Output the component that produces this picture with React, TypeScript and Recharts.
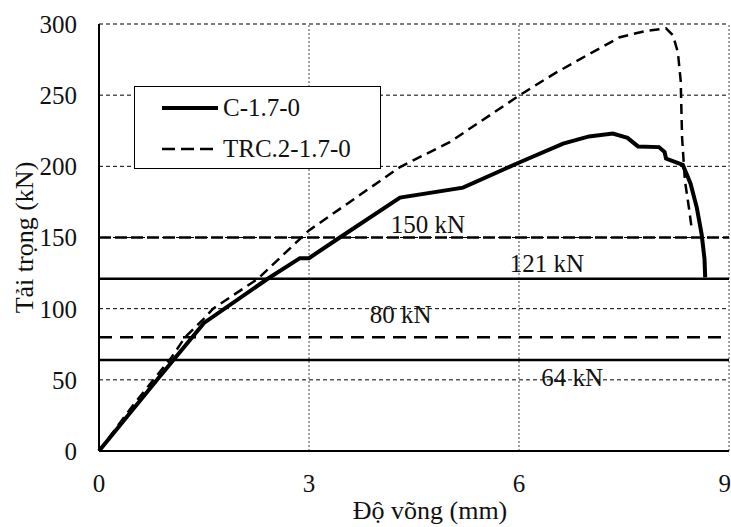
import {
  LineChart,
  Line,
  XAxis,
  YAxis,
  CartesianGrid,
  ReferenceLine,
  ReferenceDot,
  Legend,
} from "recharts";

// Load-deflection curves (x: mm, y: kN)
const C_X = [0, 0.83, 1.5, 2.41, 2.87, 3.0, 3.44, 4.3, 5.2, 5.97, 6.63, 7.0, 7.34, 7.55, 7.7, 8.0, 8.08, 8.1, 8.34, 8.45, 8.54, 8.61, 8.65, 8.66];
const C_Y = [0, 50, 90, 121, 135.5, 135.5, 150, 178, 185, 202, 216, 221, 223, 220, 214, 213.5, 210, 205.5, 201, 188, 171, 152, 135, 122];

const TRC_X = [0, 0.5, 1.04, 1.23, 1.5, 1.63, 2.27, 3.0, 4.3, 5.01, 6.01, 6.5, 6.97, 7.44, 7.8, 8.1, 8.2, 8.27, 8.31, 8.33, 8.37, 8.43, 8.47];
const TRC_Y = [0, 33, 66, 80, 93, 100, 121, 155, 199.5, 217, 250, 265, 278, 290.7, 295, 297, 292, 280, 260, 220, 190, 170, 155];

const X_TICKS = [0, 3, 6, 9];
const Y_TICKS = [0, 50, 100, 150, 200, 250, 300];

// Reference load levels
const REF_VALUES = [150, 121, 80, 64];
const REF_DASH = ["12 4", "", "13 8", ""];
const REF_LABELS = ["150 kN", "121 kN", "80 kN", "64 kN"];
const REF_LABEL_X = [4.7, 6.4, 4.31, 6.76];
const REF_LABEL_Y = [159.5, 132, 96, 52];

const cData = C_X.map((x, i) => ({ x, y: C_Y[i] }));
const trcData = TRC_X.map((x, i) => ({ x, y: TRC_Y[i] }));

const FONT = "Liberation Serif";

function LegendBox() {
  return (
    <div
      style={{
        width: 245,
        height: 81,
        border: "1.5px solid #000",
        background: "#fff",
        fontFamily: FONT,
        fontSize: 25,
        color: "#111",
      }}
    >
      <div style={{ display: "flex", alignItems: "center", height: 42 }}>
        <svg width={88} height={10}>
          <line x1={27} y1={5} x2={83} y2={5} stroke="#000" strokeWidth={4} />
        </svg>
        <span>C-1.7-0</span>
      </div>
      <div style={{ display: "flex", alignItems: "center", height: 40 }}>
        <svg width={88} height={10}>
          <line x1={27} y1={5} x2={83} y2={5} stroke="#000" strokeWidth={2.5} strokeDasharray="13 6" />
        </svg>
        <span>TRC.2-1.7-0</span>
      </div>
    </div>
  );
}

export default function App() {
  return (
    <div style={{ position: "absolute", left: 0, top: 0, background: "#fff", fontFamily: FONT }}>
      <LineChart
        width={731}
        height={527}
        margin={{ top: 24, right: 2, bottom: 36, left: 39 }}
        style={{ fontFamily: FONT }}
      >
        <CartesianGrid vertical={false} stroke="#000" strokeDasharray="4 3" />
        <XAxis
          type="number"
          dataKey="x"
          domain={[0, 9]}
          ticks={X_TICKS}
          tickLine={false}
          tickSize={0}
          tickMargin={23}
          height={40}
          axisLine={{ stroke: "#000", strokeWidth: 2 }}
          tick={{ fill: "#111", fontSize: 25, fontFamily: FONT }}
          label={{
            value: "Độ võng (mm)",
            position: "insideBottom",
            offset: -28,
            dx: 16,
            fill: "#111",
            fontSize: 26,
            fontFamily: FONT,
          }}
        />
        <YAxis
          type="number"
          domain={[0, 300]}
          ticks={Y_TICKS}
          tickLine={false}
          tickSize={0}
          tickMargin={22}
          width={60}
          axisLine={{ stroke: "#000", strokeWidth: 2 }}
          tick={{ fill: "#111", fontSize: 25, fontFamily: FONT }}
          label={{
            value: "Tải trọng (kN)",
            angle: -90,
            position: "insideLeft",
            offset: -15,
            fill: "#111",
            fontSize: 26,
            fontFamily: FONT,
            style: { textAnchor: "middle" },
          }}
        />
        {X_TICKS.slice(1).map((t) => (
          <ReferenceLine key={t} x={t} stroke="#444" strokeWidth={1} strokeDasharray="2 2" />
        ))}
        {REF_VALUES.map((v, i) => (
          <ReferenceLine
            key={v}
            y={v}
            stroke="#000"
            strokeWidth={2.5}
            strokeDasharray={REF_DASH[i] || undefined}
          />
        ))}
        <Line
          data={cData}
          dataKey="y"
          name="C-1.7-0"
          type="linear"
          stroke="#000"
          strokeWidth={4}
          dot={false}
          isAnimationActive={false}
        />
        <Line
          data={trcData}
          dataKey="y"
          name="TRC.2-1.7-0"
          type="linear"
          stroke="#000"
          strokeWidth={2.5}
          strokeDasharray="10 6"
          dot={false}
          isAnimationActive={false}
        />
        {REF_LABELS.map((lab, i) => (
          <ReferenceDot
            key={lab}
            x={REF_LABEL_X[i]}
            y={REF_LABEL_Y[i]}
            r={0}
            fill="none"
            stroke="none"
            label={{ value: lab, position: "center", fill: "#111", fontSize: 25, fontFamily: FONT }}
          />
        ))}
        <Legend
          layout="horizontal"
          verticalAlign="middle"
          align="center"
          content={() => <LegendBox />}
          wrapperStyle={{ position: "absolute", left: 134, top: 86, width: 248, height: 84 }}
        />
      </LineChart>
    </div>
  );
}
